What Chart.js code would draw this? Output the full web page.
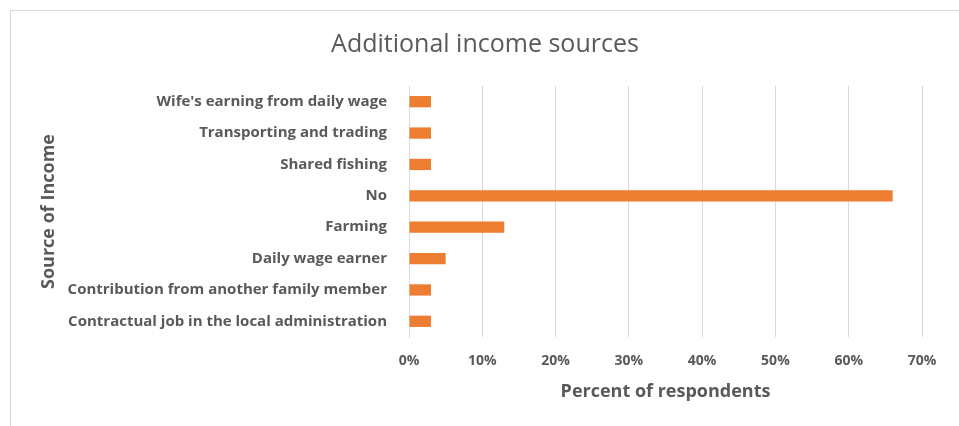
<!DOCTYPE html>
<html>
<head>
<meta charset="utf-8">
<script src="https://cdn.jsdelivr.net/npm/chart.js@4.4.1/dist/chart.umd.min.js"></script>
<style>
html,body{margin:0;padding:0;background:#fff;}
#wrap{width:959px;height:426px;position:relative;}
</style>
</head>
<body>
<div id="wrap"><canvas id="c" width="959" height="426"></canvas></div>
<script>
const categories = [
  "Wife's earning from daily wage",
  "Transporting and trading",
  "Shared fishing",
  "No",
  "Farming",
  "Daily wage earner",
  "Contribution from another family member",
  "Contractual job in the local administration"
];
const percentValues = [3, 3, 3, 66, 13, 5, 3, 3];
const xTickMax = 70;
const xTickStep = 10;

const FONT = "'Open Sans', Lato, sans-serif";
const TXT = '#595959';

const borderPlugin = {
  id: 'outerBorder',
  beforeDraw(chart) {
    const ctx = chart.ctx;
    ctx.save();
    ctx.fillStyle = '#fff';
    ctx.fillRect(0, 0, chart.width, chart.height);
    ctx.strokeStyle = '#d9d9d9';
    ctx.lineWidth = 1;
    ctx.strokeRect(10.5, 10.5, 1000, 1000);
    ctx.restore();
  }
};

new Chart(document.getElementById('c'), {
  type: 'bar',
  data: {
    labels: categories,
    datasets: [{
      data: percentValues,
      backgroundColor: '#ED7D31',
      borderWidth: 0,
      barPercentage: 0.72,
      categoryPercentage: 0.5
    }]
  },
  options: {
    indexAxis: 'y',
    responsive: false,
    animation: false,
    layout: { padding: { left: 48, right: 37, top: 20, bottom: 23 } },
    plugins: {
      legend: { display: false },
      tooltip: { enabled: false },
      title: {
        display: true,
        text: 'Additional income sources',
        color: TXT,
        font: { family: FONT, size: 25, weight: 'normal' },
        padding: { top: 10, bottom: 26 }
      }
    },
    scales: {
      x: {
        min: 0,
        max: xTickMax,
        ticks: {
          stepSize: xTickStep,
          callback: v => v + '%',
          color: TXT,
          font: { family: FONT, size: 14, weight: 'bold' },
          padding: 16
        },
        grid: { color: '#d9d9d9', drawTicks: false, lineWidth: 1 },
        border: { display: false },
        title: {
          display: true,
          text: 'Percent of respondents',
          color: TXT,
          font: { family: FONT, size: 18, weight: 'bold' },
          padding: { top: 4, bottom: 0 }
        },
        afterFit(scale) { scale.height = 66; }
      },
      y: {
        ticks: {
          color: TXT,
          font: { family: FONT, size: 15, weight: 'bold' },
          padding: 22,
          autoSkip: false
        },
        grid: { display: false, drawTicks: false },
        border: { display: true, color: '#d9d9d9' },
        title: {
          display: true,
          text: 'Source of Income',
          color: TXT,
          font: { family: FONT, size: 18, weight: 'bold' },
          padding: { top: -10, bottom: 0 }
        },
        afterFit(scale) { scale.width = 361; }
      }
    }
  },
  plugins: [borderPlugin]
});
</script>
</body>
</html>
